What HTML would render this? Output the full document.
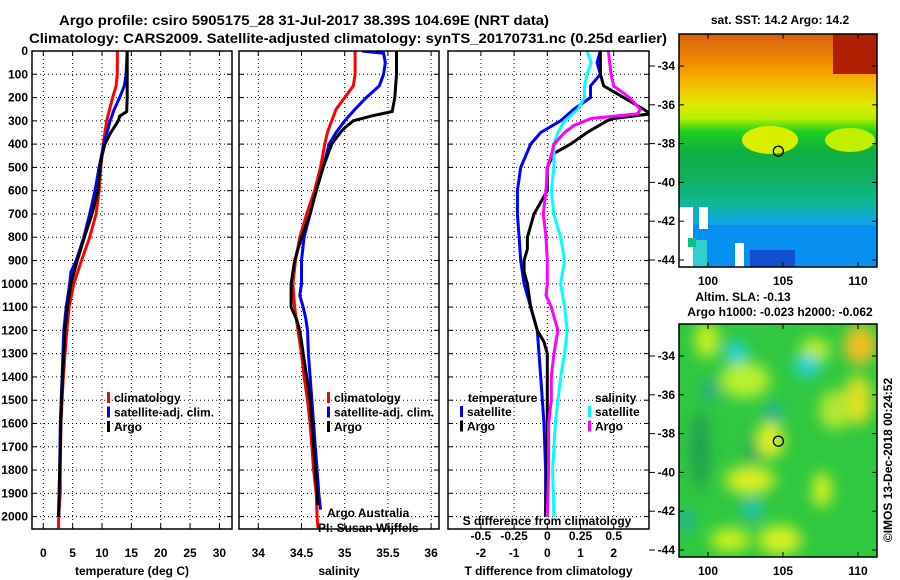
<!DOCTYPE html>
<html><head><meta charset="utf-8"><style>
body{margin:0;background:#fff}
svg{display:block;font-family:"Liberation Sans",sans-serif}
.t{font-size:12px;font-weight:bold}
</style></head><body>
<svg id="c" width="900" height="580" viewBox="0 0 900 580"></svg>
<script>
// ---- data ----
const depthsTA=[0,100,200,260,280,300,350,400,450,500,600,700,800,900,1000,1100,1200,1300,1400,1500,1600,1700,1800,1900,2000];
const tempArgo=[14.3,14.3,14.3,14.2,13.0,12.8,11.5,10.5,10.0,9.7,9.3,8.3,7.0,5.8,4.7,4.1,3.7,3.5,3.3,3.1,3.0,2.9,2.8,2.7,2.6];
const depthsTC=[0,100,150,200,250,300,400,500,600,700,800,900,1000,1100,1200,1400,1600,1800,1900,2000,2050];
const tempClim=[12.6,12.6,12.4,11.8,11.3,10.8,10.2,9.8,9.5,9.0,7.9,6.5,5.2,4.4,4.0,3.4,3.0,2.9,2.9,2.6,2.6];
const depthsTS=[0,100,150,200,250,300,400,500,600,700,800,900,950,1000,1100,1200,1400,1600,1800,2000];
const tempSat=[14.3,14.1,13.8,13.0,12.1,11.4,10.3,9.5,8.8,7.9,6.9,5.6,4.7,4.5,3.9,3.5,3.2,2.9,2.8,2.6];
const depthsSA=[0,100,200,260,280,300,330,350,400,500,600,700,800,900,1000,1100,1150,1200,1300,1400,1500,1600,1700,1800,1900,1950];
const salArgo=[35.6,35.6,35.58,35.55,35.3,35.1,35.0,34.95,34.85,34.75,34.67,34.6,34.5,34.42,34.38,34.38,34.44,34.48,34.52,34.56,34.6,34.62,34.64,34.66,34.68,34.69];
const depthsSC=[0,100,150,200,250,300,350,400,500,600,700,800,900,1000,1100,1200,1300,1400,1500,1600,1700,1800,1900,2000,2050];
const salClim=[35.12,35.12,35.1,35.0,34.9,34.85,34.8,34.77,34.72,34.65,34.56,34.48,34.43,34.4,34.42,34.46,34.5,34.53,34.57,34.6,34.62,34.64,34.67,34.68,34.69];
const depthsSS=[0,10,50,100,150,200,250,300,350,400,500,600,700,800,900,1000,1050,1100,1150,1200,1300,1400,1500,1600,1700,1800,1900,1970];
const salSat=[35.2,35.45,35.47,35.45,35.4,35.25,35.12,35.0,34.9,34.82,34.75,34.67,34.6,34.53,34.5,34.5,34.48,34.52,34.55,34.57,34.58,34.6,34.62,34.64,34.66,34.68,34.7,34.72];
const depthsDA=[0,100,150,200,250,270,290,300,350,400,440,500,600,650,700,800,850,900,950,1000,1100,1150,1200,1250,1300,1400,1500,1700,2000];
const dTArgo=[1.6,1.6,1.7,2.3,2.9,3.1,2.0,1.8,1.2,0.7,0.2,0.0,0.0,-0.2,-0.4,-0.6,-0.6,-0.7,-0.7,-0.6,-0.5,-0.4,-0.3,-0.1,0.0,0.0,0.0,0.0,-0.05];
const depthsDS=[0,50,100,150,200,250,300,350,400,500,600,700,800,900,950,1000,1100,1200,1300,1400,1600,1800,2000];
const dTSat=[1.6,1.5,1.6,1.3,1.3,0.8,0.4,-0.2,-0.5,-0.8,-0.9,-0.9,-0.85,-0.8,-0.75,-0.7,-0.5,-0.3,-0.25,-0.2,-0.1,-0.05,-0.05];
const depthsDC=[0,50,100,150,200,250,300,350,400,500,600,700,800,900,1000,1100,1200,1300,1400,1500,1600,1800,2000];
const dSSat=[0.30,0.33,0.30,0.28,0.28,0.23,0.13,0.08,0.05,0.05,0.03,0.05,0.10,0.13,0.10,0.13,0.15,0.13,0.10,0.08,0.06,0.04,0.05];
const depthsDM=[0,100,150,200,250,270,290,320,350,400,450,500,600,700,800,900,1000,1050,1100,1200,1300,1400,1500,1600,1800,2000];
const dSArgo=[0.46,0.48,0.5,0.62,0.7,0.68,0.33,0.2,0.13,0.05,0.03,0,-0.01,-0.03,-0.01,0,0,-0.01,0.03,0.08,0.05,0.03,0.03,0.01,0.01,0];
const depthTicks=[0,100,200,300,400,500,600,700,800,900,1000,1100,1200,1300,1400,1500,1600,1700,1800,1900,2000];
const tempTicks=[0,5,10,15,20,25,30];
const salTicks=[34,34.5,35,35.5,36];
const dTTicks=[-2,-1,0,1,2];
const dSTicks=[-0.5,-0.25,0,0.25,0.5];
const latTicks=[-34,-36,-38,-40,-42,-44];
const lonTicks=[100,105,110];
const floatLon=104.69, floatLat=-38.39;

// ---- scales ----
const PT=51, PB=529;
const yD=d=>PT+d*0.2328;
const xT=v=>43.3+v*5.87;
const xS=v=>258.3+(v-34)*86.4;
const xDT=v=>547.3+v*33.2;
const xDS=v=>547.3+v*132.8;
const xLon=v=>708+(v-100)*15;
const yLat1=v=>66+(-34-v)*19.4;
const yLat2=v=>356+(-34-v)*19.4;

const svg=document.getElementById('c');
const NS='http://www.w3.org/2000/svg';
function mk(tag,attrs,parent){const e=document.createElementNS(NS,tag);for(const k in attrs)e.setAttribute(k,attrs[k]);(parent||svg).appendChild(e);return e;}
function txt(x,y,s,anchor,cls,parent){const e=mk('text',{x:x,y:y,'text-anchor':anchor||'middle','class':cls||'t'},parent);e.textContent=s;return e;}

// titles
let e=txt(304,25,'Argo profile: csiro 5905175_28 31-Jul-2017 38.39S 104.69E (NRT data)','middle','');


e.setAttribute('style','font-size:14px');e.setAttribute('textLength','490');e.setAttribute('lengthAdjust','spacingAndGlyphs');
e=txt(348,43,'Climatology: CARS2009. Satellite-adjusted climatology: synTS_20170731.nc (0.25d earlier)','middle','');


e.setAttribute('style','font-size:14px');e.setAttribute('textLength','638');e.setAttribute('lengthAdjust','spacingAndGlyphs');

// panels
function panel(name,x0,x1,xs,ticks,tickFmt,title,series,showDepth){
  const g=mk('g',{});
  
  
  // grid
  depthTicks.forEach(d=>{mk('line',{x1:x0,x2:x1,y1:yD(d),y2:yD(d),stroke:'#000','stroke-width':1,'stroke-dasharray':'1 3'},g);});
  ticks.forEach(t=>{mk('line',{x1:xs(t),x2:xs(t),y1:PT,y2:PB,stroke:'#000','stroke-width':1,'stroke-dasharray':'1 3'},g);
    mk('line',{x1:xs(t),x2:xs(t),y1:PB,y2:PB-5,stroke:'#000'},g);mk('line',{x1:xs(t),x2:xs(t),y1:PT,y2:PT+5,stroke:'#000'},g);
    const l=txt(xs(t),557,tickFmt(t),'middle','t',g);
    
    });
  depthTicks.forEach(d=>{mk('line',{x1:x0,x2:x0+5,y1:yD(d),y2:yD(d),stroke:'#000'},g);mk('line',{x1:x1,x2:x1-5,y1:yD(d),y2:yD(d),stroke:'#000'},g);
    if(showDepth){const l=txt(28,yD(d)+4,String(d),'end','t',g);
      
      }});
  series.forEach(s=>{
    const pts=s.d.map((d,i)=>xs(s.v[i]).toFixed(1)+','+yD(d).toFixed(1)).join(' ');
    const p=mk('polyline',{points:pts,fill:'none',stroke:s.c,'stroke-width':3,'clip-path':'url(#clip-'+name+')'},g);
    
    
  });
  const cp=mk('clipPath',{id:'clip-'+name},g);mk('rect',{x:x0,y:PT,width:x1-x0,height:PB-PT},cp);
  mk('rect',{x:x0,y:PT,width:x1-x0,height:PB-PT,fill:'none',stroke:'#000','stroke-width':1.5},g);
  const tl=txt((x0+x1)/2,575,title,'middle','t',g);
  
  
  return g;
}
panel('temperature-panel',32,232,xT,tempTicks,String,'temperature (deg C)',[
 {n:'temp-climatology-line',d:depthsTC,v:tempClim,c:'#f00'},
 {n:'temp-satellite-line',d:depthsTS,v:tempSat,c:'#00f'},
 {n:'temp-argo-line',d:depthsTA,v:tempArgo,c:'#000'}],true);
panel('salinity-panel',239,439,xS,salTicks,String,'salinity',[
 {n:'sal-climatology-line',d:depthsSC,v:salClim,c:'#f00'},
 {n:'sal-satellite-line',d:depthsSS,v:salSat,c:'#00f'},
 {n:'sal-argo-line',d:depthsSA,v:salArgo,c:'#000'}],false);
const g3=panel('difference-panel',448,649,xDT,dTTicks,String,'T difference from climatology',[
 {n:'dT-satellite-line',d:depthsDS,v:dTSat,c:'#00f'},
 {n:'dT-argo-line',d:depthsDA,v:dTArgo,c:'#000'},
 {n:'dS-satellite-line',d:depthsDC,v:dSSat.map(v=>v*4),c:'#0ff'},
 {n:'dS-argo-line',d:depthsDM,v:dSArgo.map(v=>v*4),c:'#f0f'}],false);
e=txt(547,525,'S difference from climatology');


dSTicks.forEach(t=>{const l=txt(xDS(t),540,String(t).replace('0.','.').replace('-.','-0.').replace(/^\./,'0.'));
 l.textContent=String(t);
 
 });

// legends
function legend(x,y,items,name){
  const g=mk('g',{});
  
  
  items.forEach((it,i)=>{
    if(it.c)mk('rect',{x:x,y:y+i*14.5-10,width:3,height:11,fill:it.c},g);
    txt(x+(it.c?7:0),y+i*14.5,it.s,'start','t',g);
  });
}
legend(107,402,[{c:'#f00',s:'climatology'},{c:'#00f',s:'satellite-adj. clim.'},{c:'#000',s:'Argo'}],'temperature-legend');
legend(327,402,[{c:'#f00',s:'climatology'},{c:'#00f',s:'satellite-adj. clim.'},{c:'#000',s:'Argo'}],'salinity-legend');
legend(468,402,[{s:'temperature'}],'legend-temperature-title');
legend(460,416,[{c:'#00f',s:'satellite'},{c:'#000',s:'Argo'}],'temperature-diff-legend');
legend(595,402,[{s:'salinity'}],'legend-salinity-title');
legend(588,416,[{c:'#0ff',s:'satellite'},{c:'#f0f',s:'Argo'}],'salinity-diff-legend');
e=txt(327,517,'Argo Australia','start','');e.setAttribute('style','font-size:12px');


e=txt(318,532,'PI: Susan Wijffels','start','');e.setAttribute('style','font-size:12px');



// ---- maps ----
const defs=mk('defs',{});
const lg=mk('linearGradient',{id:'sst',x1:0,y1:0,x2:0,y2:1},defs);
[[0,'#d86010'],[0.12,'#f08c00'],[0.2,'#f6b400'],[0.3,'#e0e800'],[0.36,'#b8f000'],[0.42,'#20d020'],[0.5,'#10b040'],[0.62,'#10b060'],[0.72,'#10b890'],[0.8,'#10a8e0'],[1,'#1080f0']].forEach(s=>mk('stop',{offset:s[0],'stop-color':s[1]},lg));
const bl=mk('filter',{id:'blur'},defs);mk('feGaussianBlur',{stdDeviation:7},bl);

function mapFrame(name,y0,yLat,title1,title2){
  const g=mk('g',{});
  
  
  latTicks.forEach(t=>{mk('line',{x1:679,x2:684,y1:yLat(t),y2:yLat(t),stroke:'#000'},g);mk('line',{x1:877,x2:872,y1:yLat(t),y2:yLat(t),stroke:'#000'},g);
    mk('line',{x1:649,x2:655,y1:yLat(t),y2:yLat(t),stroke:'#000'},g);
    const l=txt(675,yLat(t)+4,String(t),'end','t',g);
    
    });
  lonTicks.forEach(t=>{mk('line',{x1:xLon(t),x2:xLon(t),y1:y0+233,y2:y0+228,stroke:'#000'},g);mk('line',{x1:xLon(t),x2:xLon(t),y1:y0,y2:y0+5,stroke:'#000'},g);
    const l=txt(xLon(t),y0+251,String(t),'middle','t',g);
    
    });
  mk('rect',{x:679,y:y0,width:198,height:233,fill:'none',stroke:'#000','stroke-width':1.5},g);
  mk('circle',{cx:xLon(floatLon),cy:yLat(floatLat),r:5,fill:'none',stroke:'#000','stroke-width':1.3},g);
  return g;
}
// SST map
const sm=mk('g',{});


const cpm=mk('clipPath',{id:'mclip'},defs);mk('rect',{x:679,y:34,width:198,height:233},cpm);
const smc=mk('g',{'clip-path':'url(#mclip)'},sm);
mk('rect',{x:679,y:34,width:198,height:233,fill:'url(#sst)'},smc);
mk('rect',{x:833,y:34,width:44,height:40,fill:'#b02000'},smc);
mk('ellipse',{cx:770,cy:140,rx:28,ry:14,fill:'#d8f000'},smc);
mk('ellipse',{cx:850,cy:140,rx:25,ry:12,fill:'#c0f000'},smc);
mk('rect',{x:679,y:225,width:198,height:42,fill:'#0890f0'},smc);
mk('rect',{x:750,y:250,width:45,height:17,fill:'#1050d0'},smc);
mk('rect',{x:679,y:240,width:28,height:27,fill:'#30d0d0'},smc);
mk('rect',{x:679,y:207,width:14,height:60,fill:'#fff'},smc);
mk('rect',{x:699,y:207,width:9,height:22,fill:'#fff'},smc);
mk('rect',{x:735,y:243,width:9,height:24,fill:'#fff'},smc);
mk('rect',{x:688,y:238,width:8,height:9,fill:'#10c080'},smc);
mapFrame('sst-map-axes',34,yLat1);
e=txt(780,24,'sat. SST: 14.2 Argo: 14.2');


// SLA map
const am=mk('g',{});


const cpa=mk('clipPath',{id:'aclip'},defs);mk('rect',{x:679,y:324,width:198,height:233},cpa);
const amc=mk('g',{'clip-path':'url(#aclip)'},am);
mk('rect',{x:679,y:324,width:198,height:233,fill:'#30c840'},amc);
const blobs=mk('g',{filter:'url(#blur)'},amc);
[[707,340,12,18,'#c8f020'],[745,380,25,18,'#b8f030'],[860,345,16,20,'#f0c020'],[858,400,14,25,'#e0e020'],[770,440,14,18,'#e0f020'],[750,480,25,14,'#d8f020'],[822,490,10,18,'#d0f020'],[835,410,16,20,'#b0e830'],[780,540,22,15,'#d0f020'],[730,540,20,12,'#c8f020'],[815,350,15,12,'#c0f020'],
 [736,352,11,11,'#20d0e0'],[807,366,13,11,'#20d0e0'],[710,390,8,10,'#20a890'],[773,413,9,10,'#20b0a0'],[753,452,6,14,'#20a060'],[752,510,10,12,'#20c0b0'],[686,520,8,12,'#20b0a0'],[700,450,10,40,'#20a050']].forEach(b=>mk('ellipse',{cx:b[0],cy:b[1],rx:b[2],ry:b[3],fill:b[4]},blobs));
mapFrame('sla-map-axes',324,yLat2);
e=txt(743,301,'Altim. SLA: -0.13');


e=txt(780,316,'Argo h1000: -0.023 h2000: -0.062');


e=txt(0,0,'©IMOS 13-Dec-2018 00:24:52','middle','');
e.setAttribute('style','font-size:12px');e.setAttribute('transform','translate(892,460) rotate(-90)');


</script>
</body></html>
